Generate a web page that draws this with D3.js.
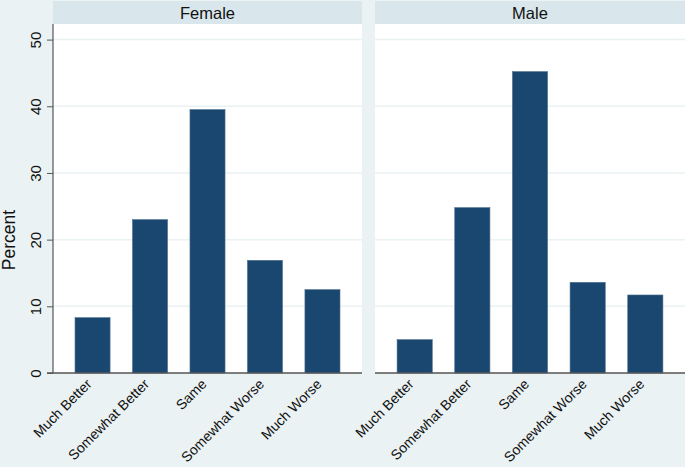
<!DOCTYPE html>
<html><head><meta charset="utf-8">
<script src="https://cdn.jsdelivr.net/npm/d3@7"></script>
<style>body{margin:0;background:#eaf2f3}</style>
</head><body>
<script>
const categories = ["Much Better","Somewhat Better","Same","Somewhat Worse","Much Worse"];
const panels = ["Female","Male"];
const femaleValues = [8.3, 23.0, 39.5, 16.9, 12.5];
const maleValues = [5.0, 24.8, 45.2, 13.6, 11.7];
const yTicks = [0,10,20,30,40,50];

const W = 685, H = 467;
const FONT = "Arial, 'Liberation Sans', sans-serif";
const svg = d3.select("body").append("svg").attr("width",W).attr("height",H)
  .style("font-family",FONT);
svg.append("rect").attr("width",W).attr("height",H).attr("fill","#eaf2f3");

const y = d3.scaleLinear().domain([0,50]).range([373,39.6]);
const panelX = [[53,362],[375,685]];
const data = [femaleValues, maleValues];

panels.forEach((p,i)=>{
  const [x0,x1] = panelX[i];
  const g = svg.append("g");
  g.append("rect").attr("x",x0).attr("y",1).attr("width",x1-x0).attr("height",23).attr("fill","#d9e6ec");
  g.append("text").attr("x",(x0+x1)/2).attr("y",18.5).attr("text-anchor","middle")
    .attr("font-size",16.5).attr("fill","#111").text(p);
  g.append("rect").attr("x",x0).attr("y",24).attr("width",x1-x0).attr("height",373-24).attr("fill","#fff");
  g.selectAll(".grid").data(yTicks.filter(t=>t>0)).join("line")
    .attr("x1",x0).attr("x2",x1).attr("y1",d=>y(d)).attr("y2",d=>y(d))
    .attr("stroke","#eaf2f3").attr("stroke-width",1.5);
  const x = d3.scaleBand().domain(categories).range([x0,x1]).paddingInner(0.39).paddingOuter(0.383);
  g.selectAll(".bar").data(data[i]).join("rect")
    .attr("x",(d,j)=>x(categories[j])).attr("width",x.bandwidth())
    .attr("y",d=>y(d)).attr("height",d=>y(0)-y(d))
    .attr("fill","#1a476f").attr("stroke","#4d6f8f").attr("stroke-width",0.6);
  const xa = g.append("g").attr("transform",`translate(0,${y(0)})`)
    .call(d3.axisBottom(x).tickSize(0).tickPadding(0));
  xa.select(".domain").remove();
  xa.selectAll(".tick text").attr("font-size",14).attr("fill","#111")
    .attr("font-family",FONT)
    .attr("text-anchor","end").attr("dy",0).attr("y",0)
    .attr("transform","translate(0,12) rotate(-45)");
  g.append("line").attr("x1",x0-(i===0?6:0)).attr("x2",x1).attr("y1",y(0)).attr("y2",y(0))
    .attr("stroke","#555").attr("stroke-width",1.5);
});

const ya = svg.append("g").attr("transform","translate(53,0)")
  .call(d3.axisLeft(y).tickValues(yTicks).tickSize(6).tickPadding(12));
ya.select(".domain").attr("d","M0,24V373").attr("stroke","#555").attr("stroke-width",1.2);
ya.selectAll(".tick line").attr("stroke","#555");
ya.selectAll(".tick text").attr("font-size",15).attr("fill","#111")
  .attr("font-family",FONT)
  .attr("text-anchor","middle")
  .attr("x",0).attr("y",0).attr("dy",0)
  .attr("transform","translate(-12,0) rotate(-90)");

svg.append("text").attr("transform","translate(15,240) rotate(-90)")
  .attr("text-anchor","middle").attr("font-size",17.5).attr("fill","#111").text("Percent");
</script>
</body></html>
